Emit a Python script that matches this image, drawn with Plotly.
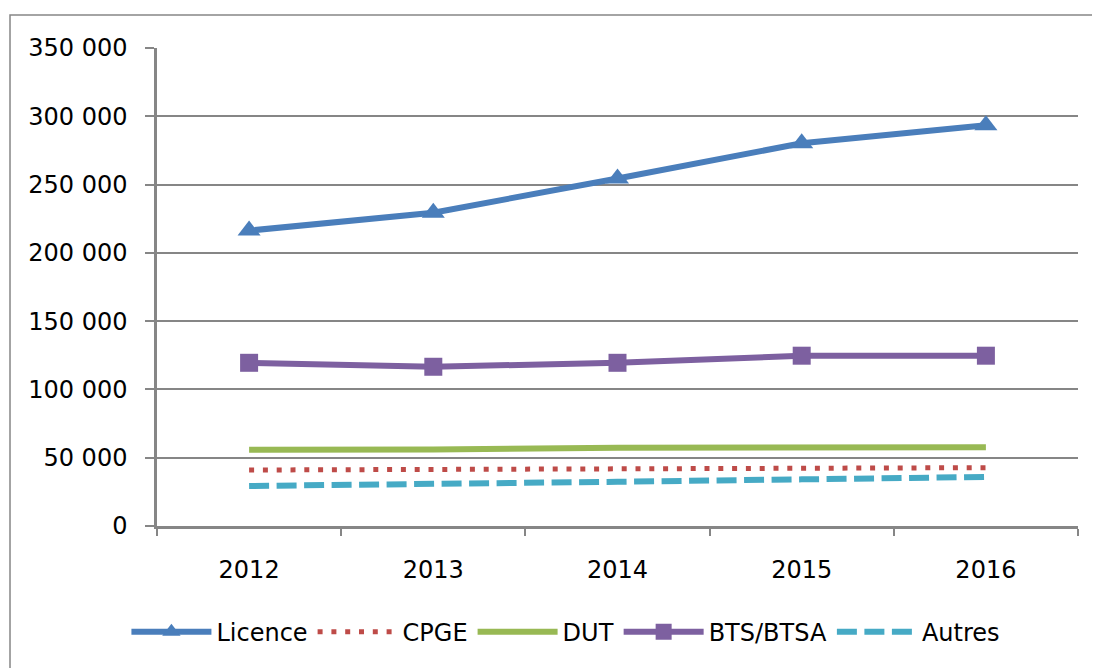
import plotly.graph_objects as go

years = ["2012", "2013", "2014", "2015", "2016"]
licence = [216300, 229400, 254500, 280200, 293500]
cpge = [41000, 41300, 42300, 42600, 42700]
dut = [55900, 56000, 57300, 57500, 57600]
bts = [119500, 116600, 119500, 124700, 124700]
autres = [29300, 30500, 32400, 34150, 35900]
y_ticks = [0, 50000, 100000, 150000, 200000, 250000, 300000, 350000]

FONT = "DejaVu Sans"
GRAY = "#868686"

fig = go.Figure()
fig.add_trace(go.Scatter(x=years, y=licence, name="Licence", mode="lines+markers",
                         line=dict(color="#4a7ebb", width=6),
                         marker=dict(symbol="triangle-up", size=20, color="#4a7ebb")))
fig.add_trace(go.Scatter(x=years, y=cpge, name="CPGE", mode="lines",
                         line=dict(color="#be4b48", width=5, dash="5px,8.8px")))
fig.add_trace(go.Scatter(x=years, y=dut, name="DUT", mode="lines",
                         line=dict(color="#98b954", width=6)))
fig.add_trace(go.Scatter(x=years, y=bts, name="BTS/BTSA", mode="lines+markers",
                         line=dict(color="#7d60a0", width=6),
                         marker=dict(symbol="square", size=18, color="#7d60a0")))
fig.add_trace(go.Scatter(x=years, y=autres, name="Autres", mode="lines",
                         line=dict(color="#46aac5", width=6, dash="20px,7.5px")))

fig.update_layout(
    width=1092, height=660,
    margin=dict(l=149, r=22, t=40, b=142),
    paper_bgcolor="white", plot_bgcolor="white",
    separators=", ",
    font=dict(family=FONT, size=24, color="black"),
    showlegend=True,
    legend=dict(orientation="h", x=0.444, xanchor="center", y=-0.222, yanchor="middle",
                font=dict(family=FONT, size=24), itemwidth=80, traceorder="normal"),
    xaxis=dict(type="category", range=[-0.5, 4.5], tickson="boundaries", ticks="outside",
               ticklen=7, tickwidth=2, tickcolor=GRAY, showline=True, linecolor=GRAY,
               linewidth=2.5, showgrid=False, ticklabelstandoff=20, fixedrange=True),
    yaxis=dict(range=[0, 350000], tickvals=y_ticks, tickformat=",d", ticks="outside",
               ticklen=9, tickwidth=2, tickcolor=GRAY, showline=True, linecolor=GRAY,
               linewidth=2.5, showgrid=True, gridcolor=GRAY, gridwidth=1.5,
               zeroline=False, ticklabelstandoff=13, fixedrange=True),
    shapes=[dict(type="rect", xref="paper", yref="paper", x0=-0.1596, x1=1.2,
                 y0=-0.6, y1=1.069, line=dict(color=GRAY, width=1.5), layer="below")],
)

fig.write_html("out.html")
